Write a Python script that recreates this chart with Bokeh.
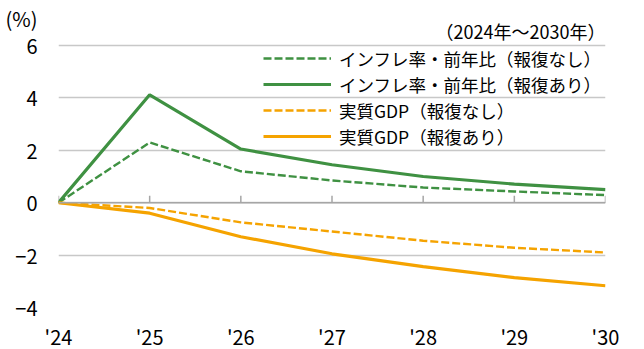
from bokeh.plotting import figure
from bokeh.models import Legend, LegendItem, Label, Span, FixedTicker, Range1d
from bokeh.embed import file_html
from bokeh.resources import INLINE

years = [2024, 2025, 2026, 2027, 2028, 2029, 2030]
year_labels = ["'24", "'25", "'26", "'27", "'28", "'29", "'30"]
infl_no = [0, 2.3, 1.2, 0.85, 0.58, 0.43, 0.29]
infl_yes = [0, 4.12, 2.05, 1.45, 1.0, 0.71, 0.5]
gdp_no = [0, -0.2, -0.75, -1.1, -1.45, -1.72, -1.9]
gdp_yes = [0, -0.4, -1.3, -1.95, -2.44, -2.86, -3.17]
y_ticks = [-4, -2, 0, 2, 4, 6]
unit_label = "(%)"
period_label = "（2024年～2030年）"
names = ["インフレ率・前年比（報復なし）", "インフレ率・前年比（報復あり）",
         "実質GDP（報復なし）", "実質GDP（報復あり）"]

GREEN = "#3f9142"
ORANGE = "#f5a300"
FONT = "Noto Sans CJK JP"

# frame extends to the top of the canvas so the header texts stay inside it
Y_TOP = 7.72
UNIT_POS = 7.03

p = figure(frame_width=547, frame_height=307, output_backend="svg", toolbar_location=None,
           x_range=Range1d(2024, 2030), y_range=Range1d(-4, Y_TOP),
           min_border_left=58, min_border_right=31, min_border_top=0, min_border_bottom=10)
p.outline_line_color = None
p.background_fill_color = "white"

p.xaxis.ticker = FixedTicker(ticks=years)
p.xaxis.major_label_overrides = {y: l for y, l in zip(years, year_labels)}
p.xaxis.axis_line_color = None
p.xaxis.major_tick_line_color = None
p.xaxis.minor_tick_line_color = None
p.xaxis.major_label_text_font = FONT
p.xaxis.major_label_text_font_size = "20px"
p.xaxis.major_label_text_color = "#000000"
p.xaxis.major_label_standoff = 8

p.yaxis.ticker = FixedTicker(ticks=y_ticks + [UNIT_POS])
p.yaxis.major_label_overrides = {UNIT_POS: unit_label}
p.yaxis.axis_line_color = None
p.yaxis.major_tick_line_color = None
p.yaxis.minor_tick_line_color = None
p.yaxis.major_label_text_font = FONT
p.yaxis.major_label_text_font_size = "20px"
p.yaxis.major_label_text_color = "#000000"
p.yaxis.major_label_standoff = 15

p.xgrid.grid_line_color = None
p.ygrid.ticker = FixedTicker(ticks=y_ticks)
p.ygrid.grid_line_color = "#c8c8c8"
p.ygrid.grid_line_width = 1.3

# zero axis line with upward ticks
p.add_layout(Span(location=0, dimension="width", line_color="#a6a6a6", line_width=1.5))
p.segment(x0=years, x1=years, y0=[0] * len(years), y1=[0.27] * len(years),
          line_color="#a6a6a6", line_width=1.5)

r1 = p.line(years, infl_no, line_color=GREEN, line_width=2.4, line_dash="8 3")
r2 = p.line(years, infl_yes, line_color=GREEN, line_width=3.2)
r3 = p.line(years, gdp_no, line_color=ORANGE, line_width=2.4, line_dash="8 3")
r4 = p.line(years, gdp_yes, line_color=ORANGE, line_width=3.2)

legend = Legend(items=[LegendItem(label=n, renderers=[r]) for n, r in zip(names, [r1, r2, r3, r4])],
                location=(205, 158), orientation="vertical")
legend.background_fill_alpha = 0
legend.border_line_alpha = 0
legend.label_text_font = FONT
legend.label_text_font_size = "17.5px"
legend.label_text_color = "#000000"
legend.glyph_width = 68
legend.glyph_height = 26
legend.label_height = 26
legend.label_standoff = 8
legend.spacing = 0
legend.padding = 0
legend.margin = 0
p.add_layout(legend, "center")

p.add_layout(Label(x=years[-1], y=y_ticks[-1], x_offset=0, y_offset=15,
                   text=period_label, text_font=FONT, text_font_size="18px",
                   text_align="right", text_baseline="middle", text_color="#000000"))

open("out.html", "w").write(file_html(p, INLINE))
